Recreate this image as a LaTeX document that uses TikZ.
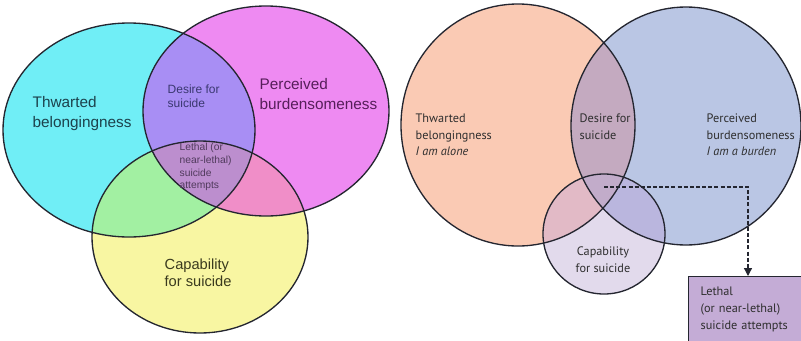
\documentclass[tikz,border=0pt]{standalone}
\usepackage{fontspec}
\setmainfont{Liberation Sans}
\newfontfamily\lancetfont{PT Sans}
\usetikzlibrary{arrows.meta}
\usepackage{xcolor}

\definecolor{tbcyan}{RGB}{112,238,246}
\definecolor{pbmagenta}{RGB}{238,138,242}
\definecolor{cfyellow}{RGB}{248,246,162}
\definecolor{cmmix}{RGB}{168,142,244}
\definecolor{cymix}{RGB}{162,240,162}
\definecolor{mymix}{RGB}{240,142,200}
\definecolor{allmix}{RGB}{188,142,206}
\definecolor{tborange}{RGB}{250,202,180}
\definecolor{pbblue}{RGB}{186,198,228}
\definecolor{obmix}{RGB}{196,170,192}
\definecolor{cflilac}{RGB}{226,218,236}
\definecolor{olmix}{RGB}{226,186,198}
\definecolor{blmix}{RGB}{186,182,222}
\definecolor{olbmix}{RGB}{194,172,202}
\definecolor{boxlilac}{RGB}{196,172,214}
\definecolor{rim}{RGB}{36,38,48}
\definecolor{tbink}{RGB}{28,66,76}
\definecolor{pbink}{RGB}{86,30,90}
\definecolor{dsink}{RGB}{58,56,112}
\definecolor{lsink}{RGB}{80,58,92}
\definecolor{cfink}{RGB}{58,58,30}

\begin{document}
\begin{tikzpicture}[x=0.75pt,y=-0.75pt,line width=1pt,
  leftlabel/.style={inner sep=0pt,anchor=west,align=left},
  rightlabel/.style={inner sep=0pt,anchor=west,align=left,
    font=\lancetfont\fontsize{9.2}{12.5}\selectfont,text=black!82},
  dashlink/.style={rim,line width=1pt,dash pattern=on 3pt off 1.6pt,
    -{Triangle[width=6pt,length=6pt]}}]

\useasboundingbox (0,0) rectangle (801,340);
\clip (0,0) rectangle (801,340);
\fill[white] (0,0) rectangle (801,340);

\def\tbring{(129,130) ellipse [x radius=126, y radius=107]}
\def\pbring{(266,111) ellipse [x radius=123, y radius=105]}
\def\cfring{(200,237) ellipse [x radius=108, y radius=96]}

\fill[tbcyan] \tbring;
\fill[pbmagenta] \pbring;
\fill[cfyellow] \cfring;
\begin{scope}
\clip \tbring;
\fill[cmmix] \pbring;
\fill[cymix] \cfring;
\end{scope}
\begin{scope}
\clip \pbring;
\fill[mymix] \cfring;
\end{scope}
\begin{scope}
\clip \tbring;
\clip \pbring;
\fill[allmix] \cfring;
\end{scope}
\draw[rim] \tbring;
\draw[rim] \pbring;
\draw[rim] \cfring;

\node[leftlabel,text=tbink,font=\fontsize{11.5}{15}\selectfont] (tbleft) at (32,114) {Thwarted\\belongingness};
\node[leftlabel,text=pbink,font=\fontsize{11.5}{14.5}\selectfont] (pbleft) at (259,94) {Perceived\\burdensomeness};
\node[leftlabel,text=dsink,font=\fontsize{9}{10.5}\selectfont] (dsleft) at (167,96) {Desire for\\suicide};
\node[leftlabel,text=lsink,font=\fontsize{7.7}{9.6}\selectfont] (lsleft) at (179,167) {Lethal (or\\near-lethal)\\suicide\\attempts};
\node[leftlabel,text=cfink,font=\fontsize{11}{13}\selectfont] (cfleft) at (164,273) {Capability\\for suicide};

\def\tbcirc{(518,125) ellipse [x radius=117, y radius=121]}
\def\pbcirc{(686,126) ellipse [x radius=115, y radius=119]}
\def\cfcirc{(604,234) ellipse [x radius=61, y radius=60]}

\fill[tborange] \tbcirc;
\fill[pbblue] \pbcirc;
\fill[cflilac] \cfcirc;
\begin{scope}
\clip \tbcirc;
\fill[obmix] \pbcirc;
\fill[olmix] \cfcirc;
\end{scope}
\begin{scope}
\clip \pbcirc;
\fill[blmix] \cfcirc;
\end{scope}
\begin{scope}
\clip \tbcirc;
\clip \pbcirc;
\fill[olbmix] \cfcirc;
\end{scope}
\draw[rim] \tbcirc;
\draw[rim] \pbcirc;
\draw[rim] \cfcirc;

\node[rightlabel] (tbright) at (415,135) {Thwarted\\belongingness\\\textit{I am alone}};
\node[rightlabel] (dsright) at (579,127) {Desire for\\suicide};
\node[rightlabel] (pbright) at (706,135) {Perceived\\burdensomeness\\\textit{I am a burden}};
\node[rightlabel,anchor=center,align=center] (cfright) at (603,260) {Capability\\for suicide};

\node[draw=rim,fill=boxlilac,anchor=north west,align=left,text width=80pt,
  inner xsep=9pt,inner ysep=8pt,font=\lancetfont\fontsize{9.2}{12.5}\selectfont,text=black!82]
  (lethal) at (688,276) {Lethal\\(or near-lethal)\\suicide attempts};

\coordinate (dstart) at (604,187);
\coordinate (bend) at (748,187);
\draw[dashlink] (dstart) -- (bend) -- (lethal.north west -| bend);

\end{tikzpicture}
\end{document}
